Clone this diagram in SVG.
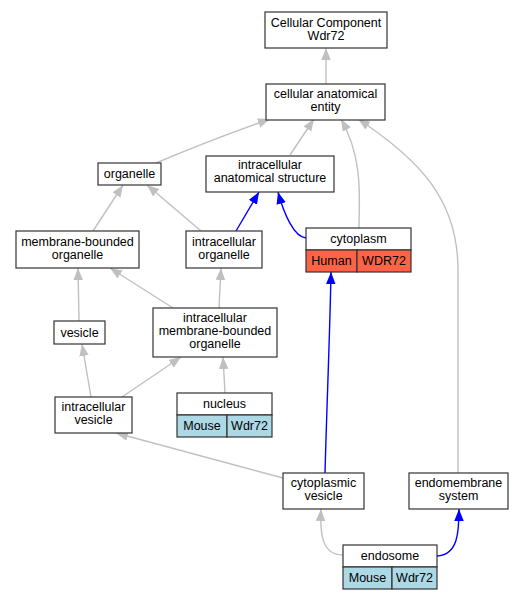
<svg xmlns="http://www.w3.org/2000/svg" width="524" height="600" viewBox="0 0 524 600">
<style>
.n{fill:#fff;stroke:#333;stroke-width:1.2}
.h{fill:#ff6347;stroke:#333;stroke-width:1.2}
.m{fill:#add8e6;stroke:#333;stroke-width:1.2}
text{font-family:"Liberation Sans",Arial,sans-serif;font-size:12.5px;text-anchor:middle;fill:#000}
.g{fill:none;stroke:#c0c0c0;stroke-width:1.4;marker-end:url(#ag)}
.b{fill:none;stroke:#0000ff;stroke-width:1.4;marker-end:url(#ab)}
</style>
<defs>
<marker id="ag" markerUnits="userSpaceOnUse" markerWidth="13" markerHeight="10" refX="12" refY="4.75" orient="auto"><path d="M0,0 L12,4.75 L0,9.5 z" fill="#c0c0c0"/></marker>
<marker id="ab" markerUnits="userSpaceOnUse" markerWidth="13" markerHeight="10" refX="12" refY="4.75" orient="auto"><path d="M0,0 L12,4.75 L0,9.5 z" fill="#0000ff"/></marker>
</defs>
<rect width="524" height="600" fill="#fff"/>
<g id="edges">
<path class="g" d="M326,84 L326,48"/>
<path class="g" d="M156,163 Q210,140 270,119"/>
<path class="g" d="M290,155 L314,119"/>
<path class="g" d="M359,228 C359,200 364,160 341,119"/>
<path class="g" d="M458,473 L458,270 C458,200 420,160 358,119"/>
<path class="g" d="M93,231 L123,185"/>
<path class="g" d="M201,231 L147,185"/>
<path class="b" d="M236,231 L259,192"/>
<path class="b" d="M306,238 C294,237 284,214 278,192"/>
<path class="g" d="M79,321 L78,268"/>
<path class="g" d="M173,308 L110,268"/>
<path class="g" d="M219,308 L221,268"/>
<path class="g" d="M91,397 L82,344"/>
<path class="g" d="M122,397 L181,357"/>
<path class="g" d="M225,393 L223,357"/>
<path class="g" d="M283,478 L116,433"/>
<path class="b" d="M325,473 C327,400 330,330 331,272"/>
<path class="g" d="M343,555 C321,555 320,532 321,509"/>
<path class="b" d="M437,556 C458,555 459,532 459,509"/>
</g>
<g id="cc"><rect class="n" x="265" y="12" width="122" height="36"/><text x="326" y="27">Cellular Component</text><text x="326" y="40">Wdr72</text></g>
<g id="cae"><rect class="n" x="266" y="84" width="119" height="36"/><text x="325.5" y="98">cellular anatomical</text><text x="325.5" y="111">entity</text></g>
<g id="organelle"><rect class="n" x="98" y="163" width="63" height="22"/><text x="129.5" y="178">organelle</text></g>
<g id="ias"><rect class="n" x="206" y="156" width="128" height="36"/><text x="270" y="169">intracellular</text><text x="270" y="182">anatomical structure</text></g>
<g id="mbo"><rect class="n" x="16" y="231" width="123" height="37"/><text x="77.5" y="246">membrane-bounded</text><text x="77.5" y="259">organelle</text></g>
<g id="io"><rect class="n" x="186" y="231" width="76" height="37"/><text x="224" y="246">intracellular</text><text x="224" y="259">organelle</text></g>
<g id="cytoplasm"><rect class="n" x="306" y="228" width="105" height="22"/><rect class="h" x="306" y="250" width="51" height="22"/><rect class="h" x="357" y="250" width="54" height="22"/><text x="358.5" y="243">cytoplasm</text><text x="331.5" y="265">Human</text><text x="384" y="265">WDR72</text></g>
<g id="vesicle"><rect class="n" x="54" y="321" width="51" height="23"/><text x="79.5" y="337">vesicle</text></g>
<g id="imbo"><rect class="n" x="153" y="308" width="124" height="49"/><text x="215" y="322">intracellular</text><text x="215" y="335">membrane-bounded</text><text x="215" y="348">organelle</text></g>
<g id="iv"><rect class="n" x="55" y="397" width="77" height="36"/><text x="93.5" y="411">intracellular</text><text x="93.5" y="424">vesicle</text></g>
<g id="nucleus"><rect class="n" x="177" y="393" width="95" height="22"/><rect class="m" x="177" y="415" width="50" height="22"/><rect class="m" x="227" y="415" width="45" height="22"/><text x="224.5" y="408">nucleus</text><text x="202" y="430">Mouse</text><text x="249.5" y="430">Wdr72</text></g>
<g id="cv"><rect class="n" x="283" y="473" width="81" height="36"/><text x="323.5" y="487">cytoplasmic</text><text x="323.5" y="500">vesicle</text></g>
<g id="ems"><rect class="n" x="409" y="473" width="99" height="36"/><text x="458.5" y="487">endomembrane</text><text x="458.5" y="500">system</text></g>
<g id="endosome"><rect class="n" x="343" y="545" width="94" height="22"/><rect class="m" x="343" y="567" width="49" height="22"/><rect class="m" x="392" y="567" width="45" height="22"/><text x="390" y="560">endosome</text><text x="367.5" y="582">Mouse</text><text x="414.5" y="582">Wdr72</text></g>
</svg>
